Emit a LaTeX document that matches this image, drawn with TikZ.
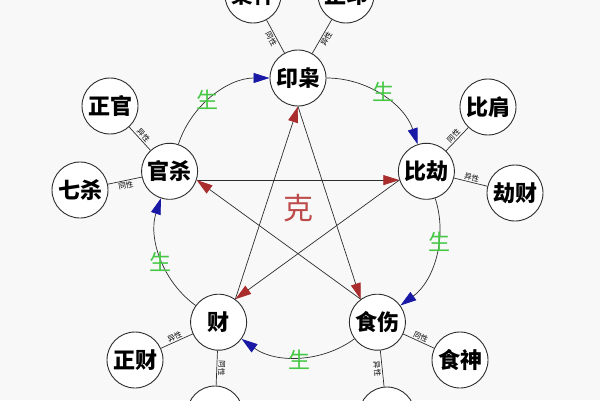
\documentclass[tikz,border=0pt]{standalone}
\usepackage{fontspec}
\newfontfamily\cjk{Noto Sans CJK SC}
\usetikzlibrary{arrows.meta,calc}
\definecolor{bg}{RGB}{248,248,248}
\definecolor{shengblue}{RGB}{25,25,165}
\definecolor{kered}{RGB}{170,45,45}
\definecolor{shenggreen}{RGB}{70,200,70}
\definecolor{kecolor}{RGB}{190,75,75}
\definecolor{linec}{RGB}{45,45,45}
\begin{document}
\begin{tikzpicture}[x=1pt,y=1pt,
  main/.style={circle,draw=linec,line width=0.9pt,fill=white,minimum size=56pt,inner sep=0pt,font=\cjk\bfseries\fontsize{22}{22}\selectfont},
  link/.style={draw=linec,line width=0.7pt},
  tag/.style={font=\cjk\fontsize{7.5}{7.5}\selectfont,inner sep=1.2pt,sloped,allow upside down},
  sheng/.style={draw=linec,line width=0.7pt,-{Triangle[length=16pt,width=10pt,color=shengblue]},bend left=36,looseness=0.94},
  ke/.style={draw=linec,line width=0.7pt,-{Triangle[length=16pt,width=10pt,color=kered]}},
  shengtxt/.style={font=\cjk\fontsize{22}{22}\selectfont,text=shenggreen},
  ketxt/.style={font=\cjk\fontsize{30}{30}\selectfont,text=kecolor},
]
\fill[bg] (0,0) rectangle (600,400);
\useasboundingbox (0,0) rectangle (600,400);
\coordinate (C) at (298,187);
% outer nodes
\node[main] (xs) at (253,405) {枭神};
\node[main] (zy) at (346,405) {正印};
\node[main] (zg) at (110,294) {正官};
\node[main] (qs) at (80,210) {七杀};
\node[main] (bk) at (488,293) {比肩};
\node[main] (jc) at (515,207) {劫财};
\node[main] (zc) at (135,40) {正财};
\node[main] (pc) at (215,-14) {};
\node[main] (sn) at (460,40) {食神};
\node[main] (sg) at (387,-15) {};
% main nodes
\node[main] (yx) at (298,322) {印枭};
\node[main] (bj) at (426.4,228.7) {比劫};
\node[main] (ss) at (377.4,77.8) {食伤};
\node[main] (cai) at (218.6,77.8) {财};
\node[main] (gs) at (169.6,228.7) {官杀};
% links
\draw[link] (xs) -- node[tag,below]{同性} (yx);
\draw[link] (yx) -- node[tag,below]{异性} (zy);
\draw[link] (zg) -- node[tag,above]{异性} (gs);
\draw[link] (qs) -- node[tag,below]{同性} (gs);
\draw[link] (bj) -- node[tag,above]{同性} (bk);
\draw[link] (bj) -- node[tag,above]{异性} (jc);
\draw[link] (zc) -- node[tag,above]{异性} (cai);
\draw[link] (cai) -- node[tag,above]{同性} (pc);
\draw[link] (ss) -- node[tag,below]{异性} (sg);
\draw[link] (ss) -- node[tag,above]{同性} (sn);
% sheng cycle
\draw[sheng] (yx) to (bj);
\draw[sheng] (bj) to (ss);
\draw[sheng] (ss) to (cai);
\draw[sheng] (cai) to (gs);
\draw[sheng] (gs) to (yx);
% ke cycle
\draw[ke] (gs.-18) -- (bj.198);
\draw[ke] (bj.198) -- (cai.54);
\draw[ke] (cai.54) -- (yx.270);
\draw[ke] (yx.270) -- (ss.126);
\draw[ke] (ss.126) -- (gs.-18);
% labels
\node[shengtxt] (s1) at (207,300) {生};
\node[shengtxt] (s2) at (383,308) {生};
\node[shengtxt] (s3) at (439,158) {生};
\node[shengtxt] (s4) at (299,40) {生};
\node[shengtxt] (s5) at (160,138) {生};
\node[ketxt] (k) at (298,192) {克};
\end{tikzpicture}
\end{document}
